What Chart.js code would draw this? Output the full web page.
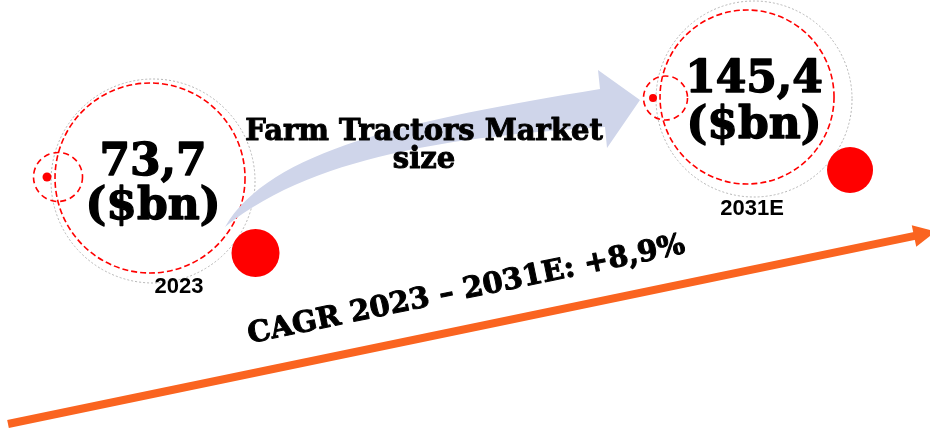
<!DOCTYPE html>
<html>
<head>
<meta charset="utf-8">
<style>
  html, body { margin: 0; padding: 0; background: #ffffff; }
  #wrap { width: 930px; height: 428px; position: relative; }
</style>
<script src="https://cdn.jsdelivr.net/npm/chart.js@4/dist/chart.umd.min.js"></script>
</head>
<body>
<div id="wrap"><canvas id="c"></canvas></div>
<script>
// ---- data ----
const categories = ['2023', '2031E'];
const marketSize = [73.7, 145.4];
const unitLabel = '($bn)';
const titleLines = ['Farm Tractors Market', 'size'];
const cagrLabel = 'CAGR 2023 \u2013 2031E: +8,9%';

const fmt = v => v.toFixed(1).replace('.', ',');

// ---- per-bubble decoration styles (relative to data point) ----
const deco = [
  { gray: 102, red: 95, redOff: [-3, -3], ring: { dx: -95, dy: -4, r: 24.5 }, dot: { dx: -106, dy: -4, r: 4.5 },
    blob: { dx: 102.5, dy: 72, r: 24 }, year: { dx: 26, dy: 106 }, valDy: -6, unitDy: 38 },
  { gray: 98, red: 87, redOff: [-7, -2], ring: { dx: -88.5, dy: -1, r: 22 }, dot: { dx: -101, dy: -1, r: 4 },
    blob: { dx: 96, dy: 71, r: 23 }, year: { dx: -2, dy: 110 }, valDy: -7, unitDy: 39 }
];

function circle(ctx, x, y, r) { ctx.beginPath(); ctx.arc(x, y, r, 0, Math.PI * 2); }
function boldText(ctx, s, x, y, w) {
  ctx.lineWidth = w; ctx.lineJoin = 'round'; ctx.strokeStyle = ctx.fillStyle;
  ctx.strokeText(s, x, y); ctx.fillText(s, x, y);
}

const infographic = {
  id: 'infographic',
  afterDatasetsDraw(chart) {
    const ctx = chart.ctx;
    const meta = chart.getDatasetMeta(0);
    ctx.save();

    // rings, dots, blobs
    meta.data.forEach((pt, i) => {
      const d = deco[i];
      const x = pt.x, y = pt.y;
      // gray dotted ring
      ctx.setLineDash([2, 2]); ctx.lineWidth = 1; ctx.strokeStyle = '#b4b4b4';
      circle(ctx, x, y, d.gray); ctx.stroke();
      // red dashed ring
      ctx.setLineDash([6, 3]); ctx.lineWidth = 1.6; ctx.strokeStyle = '#ff0000';
      circle(ctx, x + d.redOff[0], y + d.redOff[1], d.red); ctx.stroke();
      // small dashed ring
      ctx.setLineDash([6, 4]); ctx.lineWidth = 1.6;
      circle(ctx, x + d.ring.dx, y + d.ring.dy, d.ring.r); ctx.stroke();
      ctx.setLineDash([]);
      ctx.fillStyle = '#ff0000';
      circle(ctx, x + d.dot.dx, y + d.dot.dy, d.dot.r); ctx.fill();
      circle(ctx, x + d.blob.dx, y + d.blob.dy, d.blob.r); ctx.fill();
    });

    // curved blue arrow
    ctx.fillStyle = '#cfd5ea';
    ctx.beginPath();
    ctx.moveTo(225, 227);
    ctx.bezierCurveTo(270, 150, 410, 120, 600, 89);
    ctx.lineTo(598, 70);
    ctx.lineTo(640, 100);
    ctx.lineTo(607, 148);
    ctx.lineTo(605, 127);
    ctx.bezierCurveTo(480, 135, 320, 150, 225, 227);
    ctx.closePath();
    ctx.fill();

    // orange CAGR arrow
    const x0 = 8, y0 = 424, x1 = 914, y1 = 236;
    const ang = Math.atan2(y1 - y0, x1 - x0);
    ctx.strokeStyle = '#fa6420'; ctx.lineWidth = 8; ctx.lineCap = 'butt';
    ctx.beginPath(); ctx.moveTo(x0, y0); ctx.lineTo(x1 + Math.cos(ang) * 2, y1 + Math.sin(ang) * 2); ctx.stroke();
    const px = -Math.sin(ang), py = Math.cos(ang);
    ctx.fillStyle = '#fa6420';
    ctx.beginPath();
    ctx.moveTo(x1 + px * 11, y1 + py * 11);
    ctx.lineTo(x1 + Math.cos(ang) * 22, y1 + Math.sin(ang) * 22);
    ctx.lineTo(x1 - px * 11, y1 - py * 11);
    ctx.closePath(); ctx.fill();

    // texts
    ctx.fillStyle = '#000000';
    ctx.textAlign = 'center';
    ctx.textBaseline = 'alphabetic';
    meta.data.forEach((pt, i) => {
      const d = deco[i];
      ctx.font = 'bold 44px "DejaVu Serif"';
      boldText(ctx, fmt(marketSize[i]), pt.x, pt.y + d.valDy, 1.4);
      boldText(ctx, unitLabel, pt.x, pt.y + d.unitDy, 1.4);
      ctx.font = 'bold 22px "Liberation Sans"';
      ctx.textBaseline = 'middle';
      ctx.fillText(categories[i], pt.x + d.year.dx, pt.y + d.year.dy);
      ctx.textBaseline = 'alphabetic';
    });

    ctx.font = 'bold 29px "DejaVu Serif"';
    boldText(ctx, titleLines[0], 424, 140, 1);
    boldText(ctx, titleLines[1], 424, 168, 1);

    ctx.save();
    ctx.translate(468, 298);
    ctx.rotate(ang);
    ctx.font = 'bold 29px "DejaVu Serif"';
    boldText(ctx, cagrLabel, 0, 0, 1);
    ctx.restore();

    ctx.restore();
  }
};

new Chart(document.getElementById('c'), {
  type: 'scatter',
  data: {
    labels: categories,
    datasets: [{
      label: 'Farm Tractors Market size ($bn)',
      data: marketSize.map((v, i) => ({ x: i, y: v })),
      pointRadius: 0,
      pointHoverRadius: 0
    }]
  },
  options: {
    responsive: true,
    maintainAspectRatio: false,
    animation: false,
    events: [],
    layout: { padding: 0 },
    plugins: { legend: { display: false }, tooltip: { enabled: false } },
    scales: {
      x: { type: 'linear', display: false, min: -0.2546, max: 1.2928 },
      y: { type: 'linear', display: false, min: -142.28, max: 231.97 }
    }
  },
  plugins: [infographic]
});
</script>
</body>
</html>
